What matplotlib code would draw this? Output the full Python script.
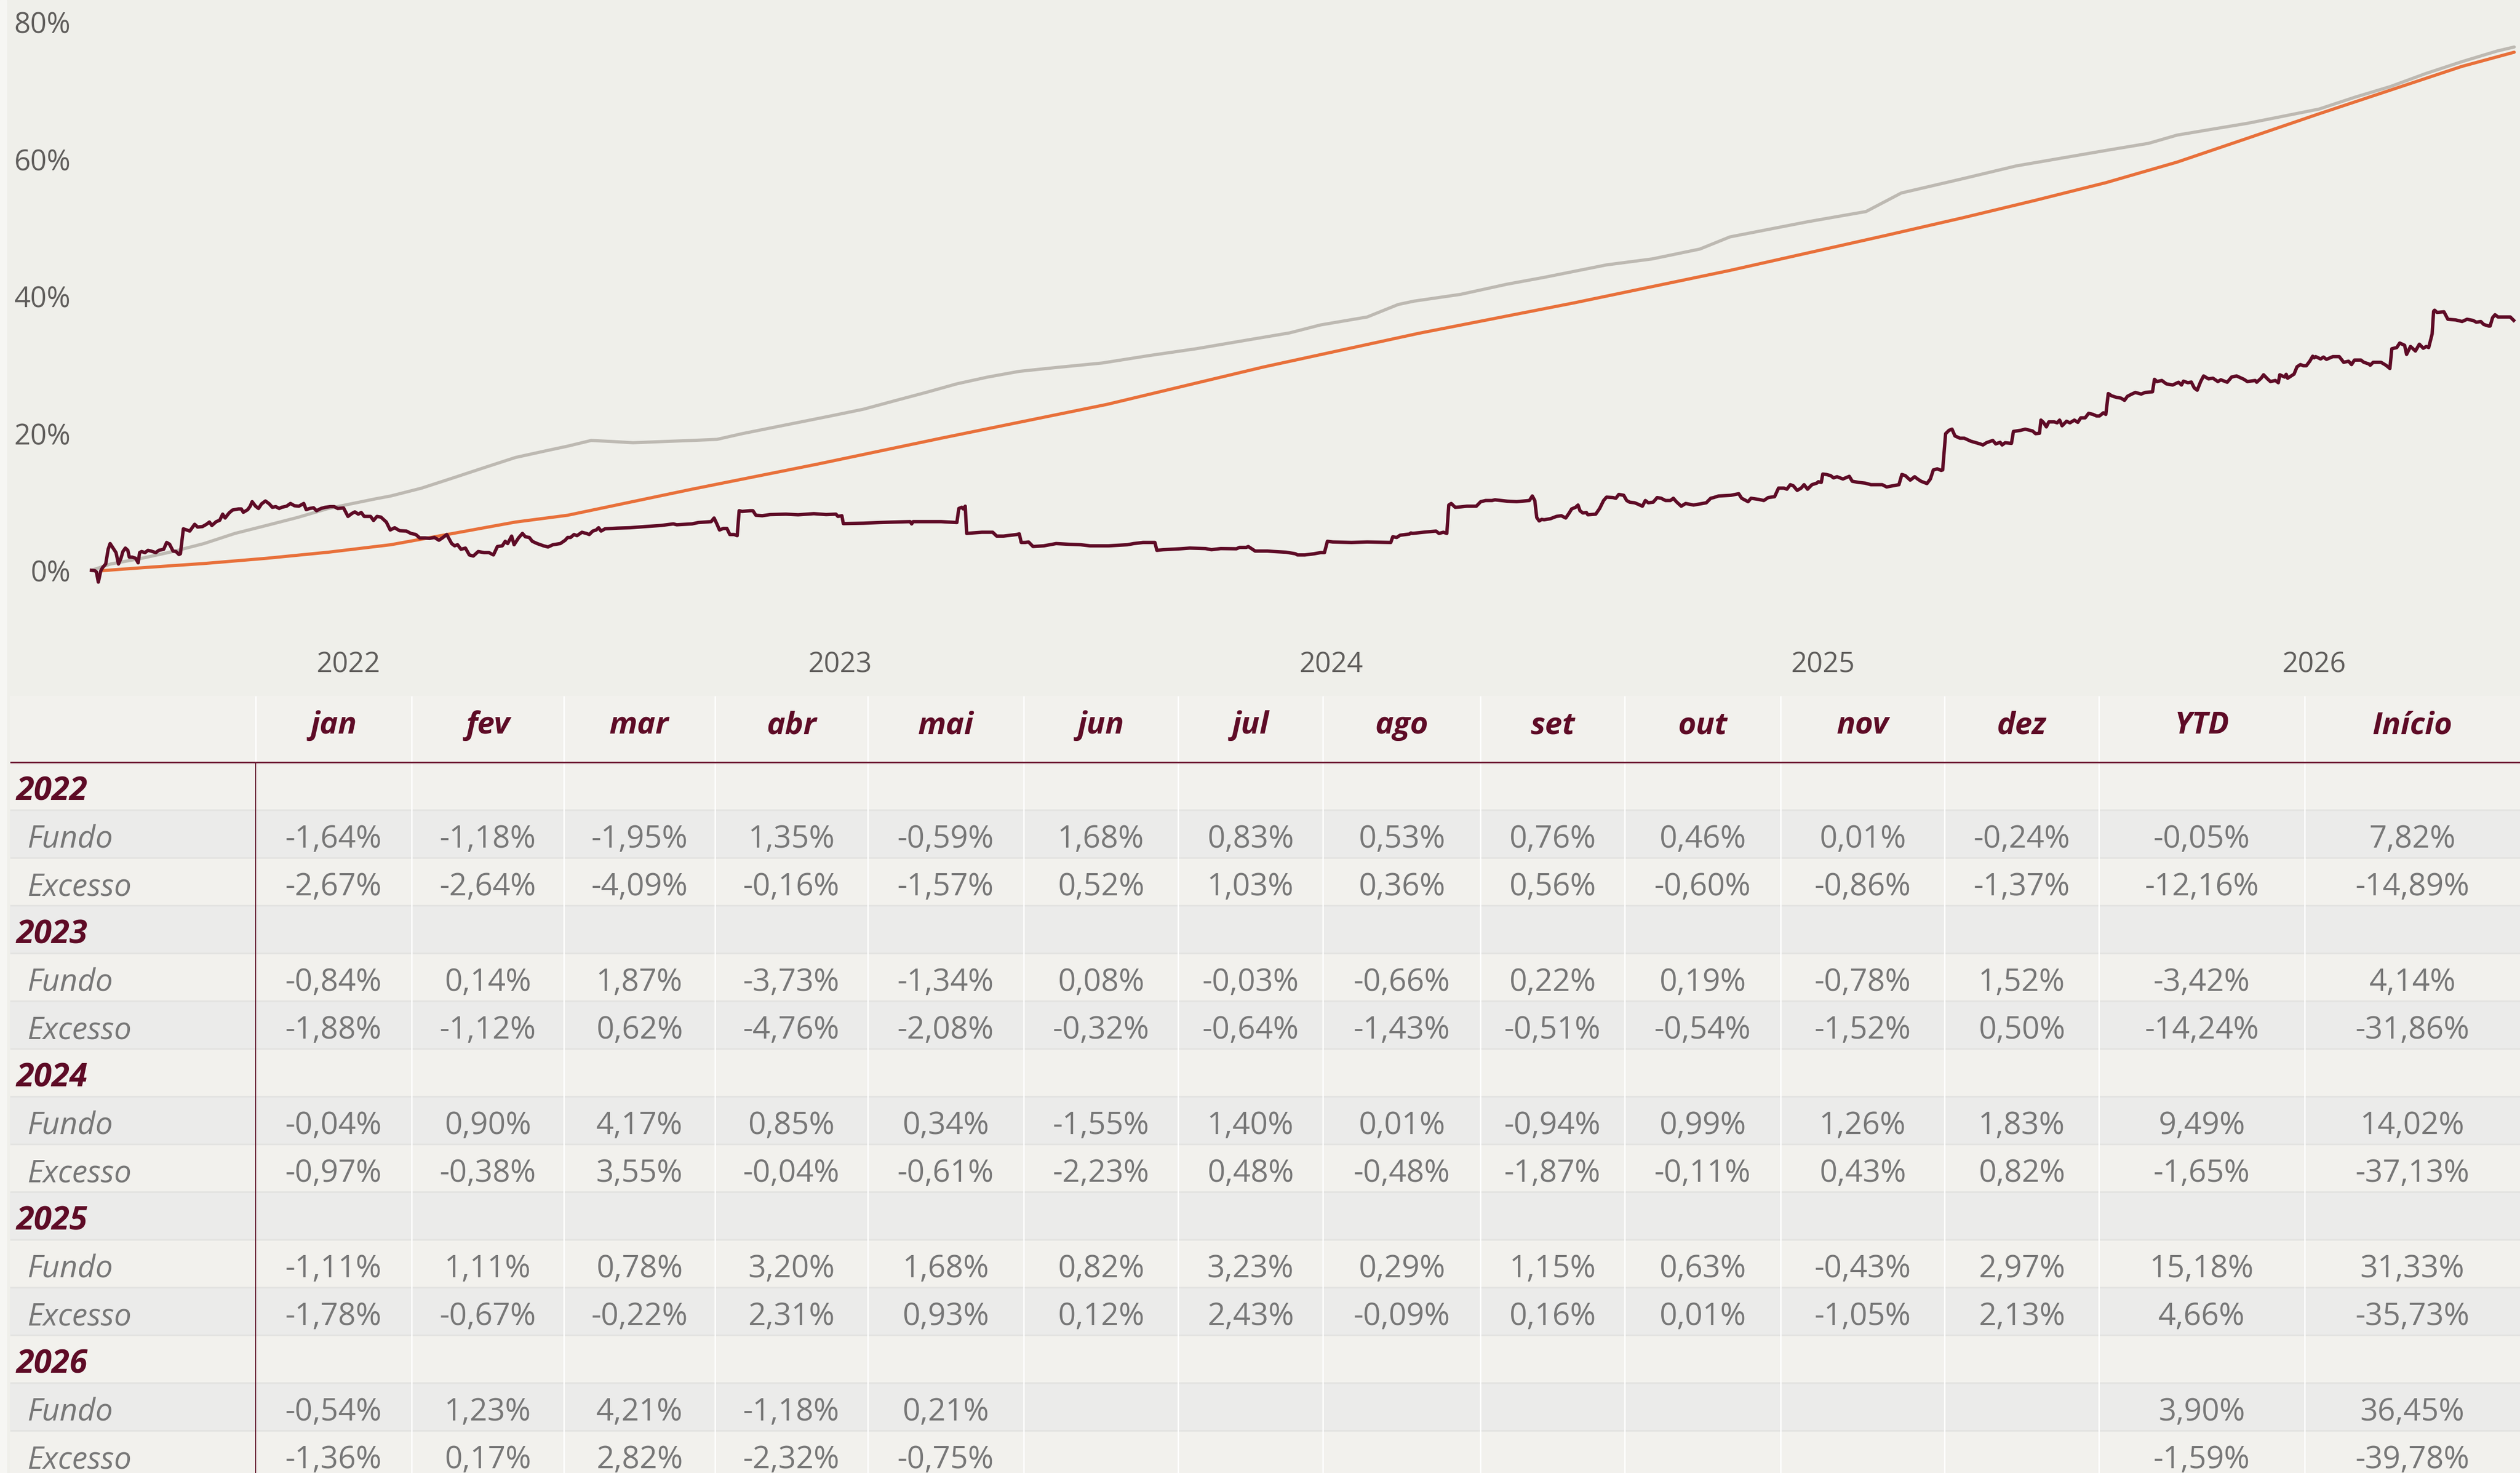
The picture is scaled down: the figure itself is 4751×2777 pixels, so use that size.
import matplotlib
matplotlib.use("Agg")
import matplotlib.pyplot as plt
from matplotlib import font_manager
from matplotlib.patches import Rectangle

# ---------------------------------------------------------------
# Dados do gráfico (x em anos decimais, y em % acumulado)
# ---------------------------------------------------------------
fundo_anos = [
	2021.477, 2021.484, 2021.487, 2021.491, 2021.496, 2021.500, 2021.506, 2021.511, 2021.515, 2021.521,
	2021.527, 2021.532, 2021.537, 2021.541, 2021.546, 2021.551, 2021.554, 2021.560, 2021.567, 2021.572,
	2021.575, 2021.579, 2021.586, 2021.592, 2021.598, 2021.608, 2021.614, 2021.624, 2021.630, 2021.636,
	2021.643, 2021.649, 2021.655, 2021.658, 2021.664, 2021.671, 2021.677, 2021.682, 2021.687, 2021.693,
	2021.703, 2021.711, 2021.717, 2021.722, 2021.731, 2021.738, 2021.744, 2021.749, 2021.757, 2021.764,
	2021.776, 2021.782, 2021.786, 2021.795, 2021.800, 2021.804, 2021.811, 2021.817, 2021.823, 2021.831,
	2021.839, 2021.845, 2021.852, 2021.859, 2021.864, 2021.874, 2021.882, 2021.890, 2021.899, 2021.909,
	2021.914, 2021.921, 2021.929, 2021.935, 2021.944, 2021.953, 2021.963, 2021.971, 2021.978, 2021.990,
	2021.999, 2022.007, 2022.013, 2022.020, 2022.026, 2022.032, 2022.045, 2022.051, 2022.058, 2022.066,
	2022.077, 2022.085, 2022.094, 2022.104, 2022.118, 2022.127, 2022.137, 2022.145, 2022.156, 2022.165,
	2022.175, 2022.184, 2022.191, 2022.200, 2022.210, 2022.216, 2022.222, 2022.229, 2022.238, 2022.246,
	2022.254, 2022.264, 2022.276, 2022.286, 2022.295, 2022.303, 2022.313, 2022.319, 2022.324, 2022.332,
	2022.337, 2022.346, 2022.354, 2022.360, 2022.368, 2022.374, 2022.384, 2022.397, 2022.406, 2022.416,
	2022.431, 2022.441, 2022.446, 2022.452, 2022.459, 2022.465, 2022.475, 2022.484, 2022.490, 2022.497,
	2022.504, 2022.509, 2022.514, 2022.522, 2022.547, 2022.573, 2022.604, 2022.636, 2022.661, 2022.668,
	2022.699, 2022.712, 2022.738, 2022.744, 2022.750, 2022.755, 2022.763, 2022.770, 2022.776, 2022.785,
	2022.791, 2022.795, 2022.801, 2022.817, 2022.823, 2022.829, 2022.842, 2022.858, 2022.890, 2022.915,
	2022.947, 2022.972, 2022.992, 2022.996, 2023.004, 2023.007, 2023.048, 2023.080, 2023.111, 2023.143,
	2023.146, 2023.149, 2023.206, 2023.238, 2023.242, 2023.248, 2023.251, 2023.255, 2023.258, 2023.270,
	2023.289, 2023.311, 2023.319, 2023.333, 2023.360, 2023.365, 2023.369, 2023.377, 2023.384, 2023.393,
	2023.415, 2023.440, 2023.465, 2023.490, 2023.509, 2023.547, 2023.585, 2023.598, 2023.617, 2023.641,
	2023.645, 2023.658, 2023.693, 2023.712, 2023.744, 2023.756, 2023.775, 2023.807, 2023.813, 2023.827,
	2023.831, 2023.845, 2023.870, 2023.883, 2023.908, 2023.927, 2023.931, 2023.946, 2023.965, 2023.978,
	2023.986, 2023.992, 2024.003, 2024.041, 2024.073, 2024.121, 2024.125, 2024.133, 2024.140, 2024.159,
	2024.162, 2024.165, 2024.187, 2024.213, 2024.219, 2024.228, 2024.235, 2024.239, 2024.244, 2024.252,
	2024.263, 2024.276, 2024.295, 2024.304, 2024.314, 2024.327, 2024.333, 2024.358, 2024.377, 2024.403,
	2024.409, 2024.414, 2024.418, 2024.423, 2024.428, 2024.433, 2024.446, 2024.458, 2024.468, 2024.477,
	2024.484, 2024.489, 2024.497, 2024.502, 2024.506, 2024.512, 2024.519, 2024.522, 2024.538, 2024.546,
	2024.554, 2024.560, 2024.573, 2024.579, 2024.585, 2024.595, 2024.601, 2024.607, 2024.617, 2024.623,
	2024.633, 2024.639, 2024.645, 2024.655, 2024.663, 2024.671, 2024.680, 2024.690, 2024.696, 2024.702,
	2024.712, 2024.721, 2024.737, 2024.750, 2024.763, 2024.772, 2024.778, 2024.788, 2024.813, 2024.829,
	2024.835, 2024.848, 2024.854, 2024.870, 2024.880, 2024.889, 2024.902, 2024.910, 2024.921, 2024.927,
	2024.934, 2024.940, 2024.948, 2024.956, 2024.962, 2024.969, 2024.978, 2024.988, 2024.991, 2024.997,
	2025.000, 2025.007, 2025.016, 2025.022, 2025.029, 2025.041, 2025.054, 2025.060, 2025.073, 2025.086,
	2025.098, 2025.111, 2025.121, 2025.130, 2025.143, 2025.155, 2025.161, 2025.168, 2025.178, 2025.187,
	2025.193, 2025.200, 2025.212, 2025.219, 2025.225, 2025.233, 2025.241, 2025.244, 2025.250, 2025.257,
	2025.263, 2025.269, 2025.279, 2025.288, 2025.301, 2025.320, 2025.326, 2025.333, 2025.346, 2025.352,
	2025.361, 2025.365, 2025.371, 2025.384, 2025.388, 2025.403, 2025.412, 2025.427, 2025.433, 2025.441,
	2025.444, 2025.449, 2025.455, 2025.460, 2025.471, 2025.477, 2025.482, 2025.487, 2025.496, 2025.503,
	2025.512, 2025.519, 2025.525, 2025.534, 2025.541, 2025.550, 2025.557, 2025.563, 2025.571, 2025.576,
	2025.581, 2025.588, 2025.598, 2025.607, 2025.614, 2025.620, 2025.629, 2025.636, 2025.648, 2025.656,
	2025.671, 2025.675, 2025.680, 2025.690, 2025.699, 2025.712, 2025.724, 2025.730, 2025.734, 2025.743,
	2025.750, 2025.756, 2025.762, 2025.769, 2025.775, 2025.785, 2025.794, 2025.804, 2025.810, 2025.823,
	2025.832, 2025.842, 2025.857, 2025.864, 2025.880, 2025.883, 2025.892, 2025.897, 2025.905, 2025.911,
	2025.921, 2025.927, 2025.930, 2025.940, 2025.943, 2025.946, 2025.959, 2025.965, 2025.972, 2025.978,
	2025.984, 2025.991, 2025.997, 2026.000, 2026.003, 2026.013, 2026.019, 2026.025, 2026.038, 2026.051,
	2026.060, 2026.070, 2026.076, 2026.082, 2026.095, 2026.101, 2026.111, 2026.114, 2026.120, 2026.136,
	2026.146, 2026.154, 2026.158, 2026.168, 2026.174, 2026.184, 2026.188, 2026.196, 2026.206, 2026.214,
	2026.222, 2026.228, 2026.233, 2026.240, 2026.243, 2026.245, 2026.250, 2026.264, 2026.272, 2026.288,
	2026.301, 2026.311, 2026.323, 2026.330, 2026.339, 2026.345, 2026.355, 2026.358, 2026.363, 2026.368,
	2026.374, 2026.383, 2026.390, 2026.399, 2026.406]
fundo_valores = [
	0.06, 0.00, -0.17, -1.66, 0.00, 0.49, 0.98, 3.13, 3.96, 3.30,
	2.64, 0.98, 1.81, 2.80, 3.30, 2.97, 1.98, 1.98, 1.81, 1.15,
	2.64, 2.80, 2.64, 2.97, 2.87, 2.64, 2.97, 3.13, 4.12, 3.86,
	2.87, 2.80, 2.37, 2.47, 6.11, 5.94, 5.78, 6.27, 6.77, 6.37,
	6.44, 6.77, 7.10, 6.60, 7.16, 7.36, 8.25, 7.69, 8.42, 8.85,
	9.01, 9.01, 8.52, 8.91, 9.41, 10.07, 9.41, 9.08, 9.74, 10.17,
	9.74, 9.25, 9.35, 9.08, 9.25, 9.41, 9.81, 9.48, 9.41, 9.81,
	8.91, 9.08, 9.18, 8.75, 9.08, 9.25, 9.35, 9.35, 9.08, 9.15,
	7.92, 8.35, 8.58, 8.25, 8.49, 7.92, 7.92, 7.33, 7.92, 7.82,
	7.10, 5.94, 6.27, 5.84, 5.78, 5.44, 5.28, 4.78, 4.78, 4.72,
	4.85, 4.45, 4.78, 5.28, 3.96, 3.63, 3.79, 3.13, 3.30, 2.30,
	2.14, 2.80, 2.64, 2.64, 2.30, 3.53, 3.63, 4.29, 3.96, 5.05,
	3.79, 4.78, 5.44, 4.95, 4.85, 4.29, 3.96, 3.63, 3.46, 3.79,
	3.96, 4.45, 4.85, 4.85, 5.28, 5.11, 5.61, 5.44, 5.28, 5.78,
	5.94, 6.27, 5.78, 6.11, 6.21, 6.27, 6.44, 6.60, 6.83, 6.70,
	6.83, 7.03, 7.16, 7.69, 6.77, 5.94, 6.17, 6.17, 5.28, 5.28,
	5.11, 8.75, 8.65, 8.75, 8.75, 8.09, 8.02, 8.19, 8.25, 8.16,
	8.32, 8.19, 8.25, 7.92, 8.02, 6.87, 6.93, 7.03, 7.10, 7.16,
	6.83, 7.16, 7.16, 7.03, 9.08, 9.25, 9.01, 9.41, 5.44, 5.51,
	5.61, 5.61, 5.05, 5.05, 5.28, 5.38, 4.12, 4.12, 4.19, 3.53,
	3.63, 3.96, 3.86, 3.79, 3.63, 3.63, 3.79, 3.96, 4.12, 4.12,
	2.97, 3.07, 3.20, 3.30, 3.23, 3.07, 3.23, 3.20, 3.40, 3.40,
	3.53, 2.87, 2.87, 2.80, 2.70, 2.47, 2.30, 2.30, 2.47, 2.64,
	2.64, 4.29, 4.19, 4.12, 4.19, 4.12, 4.95, 4.85, 5.18, 5.35,
	5.51, 5.44, 5.61, 5.78, 5.44, 5.61, 5.44, 9.58, 9.81, 9.25,
	9.31, 9.41, 9.41, 10.07, 10.24, 10.24, 10.34, 10.14, 10.07, 10.24,
	10.90, 10.24, 7.76, 7.26, 7.49, 7.43, 7.59, 7.92, 8.02, 7.69,
	8.42, 9.01, 9.25, 9.58, 8.75, 8.42, 8.49, 8.16, 8.25, 9.08,
	10.24, 10.73, 10.67, 10.57, 11.13, 11.00, 10.24, 10.00, 9.91, 9.74,
	9.41, 10.24, 9.91, 10.00, 10.67, 10.57, 10.24, 10.24, 10.57, 10.07,
	9.41, 9.81, 9.58, 9.74, 9.91, 10.57, 10.67, 10.90, 11.00, 11.23,
	10.57, 10.07, 10.57, 10.40, 10.24, 10.67, 10.80, 12.05, 12.05, 11.89,
	12.55, 12.39, 11.72, 12.05, 12.55, 11.89, 12.55, 12.78, 12.98, 12.88,
	14.10, 14.04, 13.87, 13.54, 13.71, 13.38, 13.77, 13.05, 12.88, 12.78,
	12.55, 12.55, 12.55, 12.22, 12.39, 12.55, 14.04, 13.87, 13.21, 13.71,
	13.38, 13.05, 12.71, 13.38, 14.70, 14.86, 14.63, 14.70, 19.99, 20.48,
	20.65, 19.66, 19.33, 19.33, 18.90, 18.50, 18.34, 18.67, 19.00, 18.50,
	18.73, 18.34, 18.67, 18.57, 20.32, 20.48, 20.65, 20.38, 19.99, 20.05,
	21.97, 21.64, 20.98, 21.71, 21.71, 21.57, 21.97, 21.14, 21.80, 21.57,
	21.97, 21.64, 22.30, 22.30, 22.96, 22.80, 22.57, 22.57, 23.03, 22.80,
	25.84, 25.51, 25.28, 25.17, 24.85, 25.44, 25.77, 26.00, 25.77, 26.00,
	26.10, 27.92, 27.59, 27.75, 27.26, 27.09, 27.49, 27.09, 27.65, 27.42,
	27.52, 26.66, 26.33, 27.59, 28.41, 27.98, 28.08, 27.59, 27.85, 27.49,
	28.25, 28.41, 27.92, 27.59, 27.75, 27.49, 28.08, 28.58, 27.98, 27.59,
	27.75, 27.42, 28.58, 28.25, 28.65, 28.08, 28.68, 29.74, 30.07, 29.90,
	29.90, 30.56, 31.29, 31.06, 31.23, 30.89, 31.16, 30.83, 31.23, 31.23,
	30.40, 30.56, 30.07, 30.73, 30.73, 30.40, 30.17, 29.97, 30.40, 30.40,
	29.97, 29.50, 32.38, 32.55, 33.21, 32.88, 31.55, 32.71, 32.05, 33.04,
	32.45, 32.71, 32.55, 34.53, 37.83, 38.00, 37.67, 37.77, 36.68, 36.58,
	36.35, 36.68, 36.51, 36.25, 36.35, 35.92, 35.69, 35.69, 36.91, 37.34,
	37.01, 37.01, 37.01, 37.01, 36.51]

cinza_anos = [
	2021.477, 2021.516, 2021.579, 2021.643, 2021.706, 2021.769, 2021.833, 2021.896, 2021.959, 2022.000,
	2022.054, 2022.086, 2022.149, 2022.213, 2022.276, 2022.340, 2022.403, 2022.446, 2022.494, 2022.541,
	2022.579, 2022.636, 2022.699, 2022.750, 2022.801, 2022.858, 2022.921, 2022.985, 2023.048, 2023.111,
	2023.175, 2023.238, 2023.301, 2023.365, 2023.440, 2023.534, 2023.630, 2023.725, 2023.820, 2023.915,
	2023.978, 2024.073, 2024.136, 2024.168, 2024.263, 2024.358, 2024.433, 2024.560, 2024.653, 2024.750,
	2024.811, 2024.970, 2025.088, 2025.160, 2025.286, 2025.394, 2025.576, 2025.663, 2025.721, 2025.793,
	2025.865, 2025.938, 2026.010, 2026.083, 2026.155, 2026.227, 2026.300, 2026.372, 2026.407]
cinza_valores = [
	0.06, 0.98, 1.81, 2.80, 3.96, 5.44, 6.60, 7.76, 9.08, 9.68,
	10.47, 10.90, 12.05, 13.54, 15.03, 16.52, 17.51, 18.17, 19.00, 18.83,
	18.67, 18.83, 19.00, 19.16, 19.99, 20.81, 21.71, 22.63, 23.56, 24.78,
	26.00, 27.26, 28.25, 29.08, 29.64, 30.30, 31.39, 32.38, 33.54, 34.69,
	35.85, 37.01, 38.83, 39.32, 40.31, 41.80, 42.79, 44.61, 45.48, 46.92,
	48.69, 50.91, 52.39, 55.10, 57.20, 59.05, 61.30, 62.34, 63.54, 64.41,
	65.27, 66.31, 67.34, 69.07, 70.62, 72.52, 74.24, 75.80, 76.39]

laranja_anos = [
	2021.497, 2021.579, 2021.706, 2021.833, 2021.959, 2022.086, 2022.213, 2022.340, 2022.446, 2022.699,
	2022.953, 2023.206, 2023.544, 2023.861, 2024.178, 2024.494, 2024.811, 2025.128, 2025.286, 2025.431,
	2025.576, 2025.721, 2025.865, 2026.010, 2026.155, 2026.300, 2026.407]
laranja_valores = [
	0.00, 0.43, 1.05, 1.81, 2.70, 3.79, 5.44, 7.10, 8.09, 11.89,
	15.53, 19.33, 24.27, 29.70, 34.63, 39.07, 43.80, 48.90, 51.50, 54.00,
	56.60, 59.60, 63.10, 66.65, 70.10, 73.55, 75.63]

anos_ticks = [2022, 2023, 2024, 2025, 2026]
pct_ticks = [0, 20, 40, 60, 80]

# ---------------------------------------------------------------
# Dados da tabela (rentabilidade mensal em %)
# ---------------------------------------------------------------
colunas = ["jan", "fev", "mar", "abr", "mai", "jun", "jul", "ago", "set", "out", "nov", "dez", "YTD", "Início"]
anos_tabela = ["2022", "2023", "2024", "2025", "2026"]

fundo_2022 = [-1.64, -1.18, -1.95, 1.35, -0.59, 1.68, 0.83, 0.53, 0.76, 0.46, 0.01, -0.24, -0.05, 7.82]
excesso_2022 = [-2.67, -2.64, -4.09, -0.16, -1.57, 0.52, 1.03, 0.36, 0.56, -0.60, -0.86, -1.37, -12.16, -14.89]
fundo_2023 = [-0.84, 0.14, 1.87, -3.73, -1.34, 0.08, -0.03, -0.66, 0.22, 0.19, -0.78, 1.52, -3.42, 4.14]
excesso_2023 = [-1.88, -1.12, 0.62, -4.76, -2.08, -0.32, -0.64, -1.43, -0.51, -0.54, -1.52, 0.50, -14.24, -31.86]
fundo_2024 = [-0.04, 0.90, 4.17, 0.85, 0.34, -1.55, 1.40, 0.01, -0.94, 0.99, 1.26, 1.83, 9.49, 14.02]
excesso_2024 = [-0.97, -0.38, 3.55, -0.04, -0.61, -2.23, 0.48, -0.48, -1.87, -0.11, 0.43, 0.82, -1.65, -37.13]
fundo_2025 = [-1.11, 1.11, 0.78, 3.20, 1.68, 0.82, 3.23, 0.29, 1.15, 0.63, -0.43, 2.97, 15.18, 31.33]
excesso_2025 = [-1.78, -0.67, -0.22, 2.31, 0.93, 0.12, 2.43, -0.09, 0.16, 0.01, -1.05, 2.13, 4.66, -35.73]
fundo_2026 = [-0.54, 1.23, 4.21, -1.18, 0.21, None, None, None, None, None, None, None, 3.90, 36.45]
excesso_2026 = [-1.36, 0.17, 2.82, -2.32, -0.75, None, None, None, None, None, None, None, -1.59, -39.78]

fundo_linhas = [fundo_2022, fundo_2023, fundo_2024, fundo_2025, fundo_2026]
excesso_linhas = [excesso_2022, excesso_2023, excesso_2024, excesso_2025, excesso_2026]

# ---------------------------------------------------------------
# Estilo
# ---------------------------------------------------------------
def escolher_fonte(opcoes):
	for nome in opcoes:
		try:
			font_manager.findfont(font_manager.FontProperties(family=nome), fallback_to_default=False)
			return nome
		except ValueError:
			continue
	return "DejaVu Sans"

FONTE = escolher_fonte(["Open Sans", "Noto Sans", "DejaVu Sans"])
plt.rcParams["font.family"] = [FONTE, "DejaVu Sans"]

COR_FUNDO = "#EFEFEA"
COR_CLARA = "#F2F1ED"
COR_ESCURA = "#EBEBEA"
COR_VINHO = "#5E0B26"
COR_LARANJA = "#E8703A"
COR_CINZA = "#BDB9B2"
COR_TEXTO = "#777777"
COR_EIXO = "#605E5C"

W, H = 4751, 2777		# tamanho em pixels (dpi 100)

fig = plt.figure(figsize=(W / 100, H / 100), dpi=100, facecolor=COR_FUNDO)
fig.add_artist(Rectangle((0, 0), 12 / W, 1, transform=fig.transFigure, color="#F6F6F3", zorder=-5))

# ---------------------------------------------------------------
# Gráfico de linhas
# ---------------------------------------------------------------
ax = fig.add_axes([150 / W, 1 - 1180 / H, 1 - 150 / W, (1180 - 20) / H])
ax.set_facecolor(COR_FUNDO)
ax.plot(cinza_anos, cinza_valores, color=COR_CINZA, lw=4.3, solid_capstyle="round", zorder=2)
ax.plot(laranja_anos, laranja_valores, color=COR_LARANJA, lw=4.3, solid_capstyle="round", zorder=3)
ax.plot(fundo_anos, fundo_valores, color=COR_VINHO, lw=4.6, solid_joinstyle="round", zorder=4)

ax.set_xlim(2021.4528, 2026.4188)
ax.set_ylim(-8.05, 81.70)
ax.set_xticks(anos_ticks)
ax.set_xticklabels([str(a) for a in anos_ticks])
ax.set_yticks(pct_ticks)
ax.set_yticklabels(["{0}%".format(p) for p in pct_ticks])
ax.tick_params(axis="both", length=0, colors=COR_EIXO, labelsize=38)
ax.tick_params(axis="y", pad=12, labelsize=39)
ax.tick_params(axis="x", pad=34)
for s in ax.spines.values():
	s.set_visible(False)

# ---------------------------------------------------------------
# Tabela
# ---------------------------------------------------------------
TOPO = 1312
BASE_CAB = 1437
ALT_LINHA = 90
X_ESQ = 19
bordas = [482, 776, 1063, 1348, 1636, 1930, 2221, 2494, 2791, 3063, 3357, 3666, 3957, 4345, 4751]

at = fig.add_axes([0, 0, 1, (H - TOPO) / H])
at.set_xlim(0, W)
at.set_ylim(H, TOPO)
at.axis("off")

def fmt(v):
	if v is None:
		return ""
	return "{0:.2f}%".format(v).replace(".", ",")

# cabeçalho
at.add_patch(Rectangle((X_ESQ, TOPO), W - X_ESQ, BASE_CAB - TOPO, color=COR_CLARA, lw=0, zorder=0))
for i, nome in enumerate(colunas):
	xc = (bordas[i] + bordas[i + 1]) / 2
	at.text(xc, 1368, nome, ha="center", va="center", fontsize=42,
			fontweight="bold", fontstyle="italic", color=COR_VINHO)

# linhas
linhas = []
for ano, f, e in zip(anos_tabela, fundo_linhas, excesso_linhas):
	linhas.append(("ano", ano, None))
	linhas.append(("serie", "Fundo", f))
	linhas.append(("serie", "Excesso", e))

for k, (tipo, rotulo, valores) in enumerate(linhas):
	y0 = BASE_CAB + k * ALT_LINHA
	yc = y0 + ALT_LINHA / 2 + 11
	cor = COR_CLARA if k % 2 == 0 else COR_ESCURA
	at.add_patch(Rectangle((X_ESQ, y0), W - X_ESQ, ALT_LINHA, color=cor, lw=0, zorder=0))
	at.hlines(y0, X_ESQ, W, color="#E3E3E1", lw=2.2, zorder=1)
	if tipo == "ano":
		at.text(30, yc, rotulo, ha="left", va="center", fontsize=44, fontweight="bold",
				fontstyle="italic", color=COR_VINHO)
	else:
		at.text(52, yc, rotulo, ha="left", va="center", fontsize=42, fontstyle="italic", color=COR_TEXTO)
		for i, v in enumerate(valores):
			xc = (bordas[i] + bordas[i + 1]) / 2
			at.text(xc, yc, fmt(v), ha="center", va="center", fontsize=42, color=COR_TEXTO)

# separadores verticais
at.vlines(bordas[1:-1], TOPO, H, color="white", lw=1.8, zorder=2)
at.vlines(bordas[0], TOPO, BASE_CAB, color="white", lw=1.8, zorder=2)
at.vlines(bordas[0], BASE_CAB, H, color=COR_VINHO, lw=1.3, zorder=3)
at.hlines(BASE_CAB, X_ESQ, W, color="#6E1B33", lw=2.2, zorder=3)

fig.savefig("out.png", dpi=100, facecolor=fig.get_facecolor())
